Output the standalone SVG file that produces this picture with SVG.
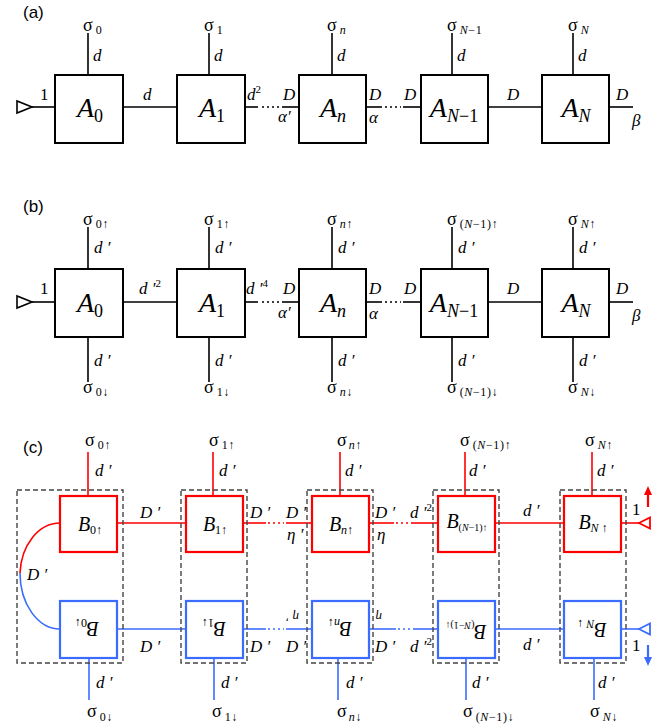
<svg xmlns="http://www.w3.org/2000/svg" width="668" height="727" viewBox="0 0 668 727">
<style>
text{font-family:"Liberation Serif","Times New Roman",serif;fill:#000}
.t{font-family:"Liberation Serif","Times New Roman",serif;fill:#000}
.i{font-style:italic}
.s{font-size:18px}
.sb{font-size:12px;letter-spacing:0.6px}
.l{font-size:17px}
.big{font-size:28px;font-style:italic}
.bc{font-size:20px;font-style:italic}
text.p{font-family:"Liberation Sans",Arial,sans-serif;font-size:17px}
.bx{fill:#fff;stroke:#000;stroke-width:2}
.ln{stroke:#000;stroke-width:1.6;fill:none}
.dt{stroke:#000;stroke-width:1.6;stroke-dasharray:2 3;fill:none}
.rb{fill:#fff;stroke:#ff0000;stroke-width:2.2}
.bb{fill:#fff;stroke:#3b6cff;stroke-width:2.2}
.rl{stroke:#ff0000;stroke-width:1.6;fill:none}
.bl{stroke:#3b6cff;stroke-width:1.6;fill:none}
.rd{stroke:#ff0000;stroke-width:1.6;stroke-dasharray:2 3;fill:none}
.bd{stroke:#3b6cff;stroke-width:1.6;stroke-dasharray:2 3;fill:none}
.dash{fill:none;stroke:#444;stroke-width:1.4;stroke-dasharray:5 3}
</style>

<!-- panel labels -->
<text class="p" x="23" y="18">(a)</text>
<text class="p" x="23" y="212">(b)</text>
<text class="p" x="23" y="453">(c)</text>

<!-- ================= connectors ================= -->
<g id="connectors">
  <!-- (a) -->
  <polygon points="17,101 17,113 32,107" fill="#fff" stroke="#000" stroke-width="1.6"/>
  <line class="ln" x1="32" y1="107" x2="55" y2="107"/>
  <line class="ln" x1="123" y1="107" x2="177" y2="107"/>
  <line class="ln" x1="245" y1="107" x2="258" y2="107"/>
  <line class="dt" x1="262" y1="107" x2="280" y2="107"/>
  <line class="ln" x1="282" y1="107" x2="299" y2="107"/>
  <line class="ln" x1="366" y1="107" x2="382" y2="107"/>
  <line class="dt" x1="385" y1="107" x2="401" y2="107"/>
  <line class="ln" x1="403" y1="107" x2="421" y2="107"/>
  <line class="ln" x1="488" y1="107" x2="542" y2="107"/>
  <line class="ln" x1="609" y1="107" x2="633" y2="107"/>
  <line class="ln" x1="88" y1="33" x2="88" y2="75"/>
  <line class="ln" x1="209" y1="33" x2="209" y2="75"/>
  <line class="ln" x1="332" y1="33" x2="332" y2="75"/>
  <line class="ln" x1="452" y1="33" x2="452" y2="75"/>
  <line class="ln" x1="573" y1="33" x2="573" y2="75"/>

  <!-- (b) -->
  <polygon points="17,296 17,308 32,302" fill="#fff" stroke="#000" stroke-width="1.6"/>
  <line class="ln" x1="32" y1="302" x2="55" y2="302"/>
  <line class="ln" x1="123" y1="302" x2="177" y2="302"/>
  <line class="ln" x1="245" y1="302" x2="258" y2="302"/>
  <line class="dt" x1="262" y1="302" x2="280" y2="302"/>
  <line class="ln" x1="282" y1="302" x2="299" y2="302"/>
  <line class="ln" x1="366" y1="302" x2="382" y2="302"/>
  <line class="dt" x1="385" y1="302" x2="401" y2="302"/>
  <line class="ln" x1="403" y1="302" x2="421" y2="302"/>
  <line class="ln" x1="488" y1="302" x2="542" y2="302"/>
  <line class="ln" x1="609" y1="302" x2="633" y2="302"/>
  <line class="ln" x1="88" y1="227" x2="88" y2="269"/>
  <line class="ln" x1="209" y1="227" x2="209" y2="269"/>
  <line class="ln" x1="332" y1="227" x2="332" y2="269"/>
  <line class="ln" x1="452" y1="227" x2="452" y2="269"/>
  <line class="ln" x1="573" y1="227" x2="573" y2="269"/>
  <line class="ln" x1="88" y1="337" x2="88" y2="382"/>
  <line class="ln" x1="209" y1="337" x2="209" y2="382"/>
  <line class="ln" x1="332" y1="337" x2="332" y2="382"/>
  <line class="ln" x1="452" y1="337" x2="452" y2="382"/>
  <line class="ln" x1="573" y1="337" x2="573" y2="382"/>

  <!-- (c) red -->
  <path class="rl" d="M60,523 A40,53 0 0 0 20,573"/>
  <line class="rl" x1="117" y1="523" x2="186" y2="523"/>
  <line class="rl" x1="243" y1="523" x2="266" y2="523"/>
  <line class="rd" x1="268" y1="523" x2="284" y2="523"/>
  <line class="rl" x1="286" y1="523" x2="312" y2="523"/>
  <line class="rl" x1="369" y1="523" x2="394" y2="523"/>
  <line class="rd" x1="396" y1="523" x2="410" y2="523"/>
  <line class="rl" x1="411" y1="523" x2="438" y2="523"/>
  <line class="rl" x1="495" y1="523" x2="564" y2="523"/>
  <line class="rl" x1="621" y1="523" x2="639" y2="523"/>
  <polygon points="639,523 650,517.5 650,528.5" fill="#fff" stroke="#ff0000" stroke-width="1.8"/>
  <line class="rl" x1="88" y1="452" x2="88" y2="496"/>
  <line class="rl" x1="213" y1="452" x2="213" y2="496"/>
  <line class="rl" x1="340" y1="452" x2="340" y2="496"/>
  <line class="rl" x1="465" y1="452" x2="465" y2="496"/>
  <line class="rl" x1="592" y1="452" x2="592" y2="496"/>
  <line x1="648" y1="507" x2="648" y2="493" stroke="#ff0000" stroke-width="2.2"/>
  <polygon points="648,486 644,495 652,495" fill="#ff0000"/>

  <!-- (c) blue -->
  <path class="bl" d="M20,573 A40,56 0 0 0 60,629"/>
  <line class="bl" x1="117" y1="629" x2="186" y2="629"/>
  <line class="bl" x1="243" y1="629" x2="266" y2="629"/>
  <line class="bd" x1="268" y1="629" x2="284" y2="629"/>
  <line class="bl" x1="286" y1="629" x2="312" y2="629"/>
  <line class="bl" x1="369" y1="629" x2="396" y2="629"/>
  <line class="bd" x1="398" y1="629" x2="411" y2="629"/>
  <line class="bl" x1="413" y1="629" x2="438" y2="629"/>
  <line class="bl" x1="495" y1="629" x2="564" y2="629"/>
  <line class="bl" x1="621" y1="629" x2="639" y2="629"/>
  <polygon points="639,629 650,623.5 650,634.5" fill="#fff" stroke="#3b6cff" stroke-width="1.8"/>
  <line class="bl" x1="89" y1="658" x2="89" y2="700"/>
  <line class="bl" x1="214" y1="658" x2="214" y2="700"/>
  <line class="bl" x1="338" y1="658" x2="338" y2="700"/>
  <line class="bl" x1="466" y1="658" x2="466" y2="700"/>
  <line class="bl" x1="594" y1="658" x2="594" y2="700"/>
  <line x1="648" y1="645" x2="648" y2="658" stroke="#3b6cff" stroke-width="2.2"/>
  <polygon points="648,666 644,657 652,657" fill="#3b6cff"/>

  <!-- dashed groupings -->
  <rect class="dash" x="17" y="490" width="106" height="173"/>
  <rect class="dash" x="181" y="490" width="66" height="173"/>
  <rect class="dash" x="307" y="490" width="66" height="173"/>
  <rect class="dash" x="433" y="490" width="66" height="173"/>
  <rect class="dash" x="560" y="490" width="66" height="173"/>
</g>

<!-- connector labels -->
<g id="labels-a" class="t">
  <text class="l" x="40" y="100">1</text>
  <text class="l i" x="143" y="100">d</text>
  <text class="l i" x="247" y="100">d<tspan font-size="11" dy="-7" font-style="normal">2</tspan></text>
  <text class="l i" x="283" y="100">D</text>
  <text class="l i" x="278" y="122">α′</text>
  <text class="l i" x="369" y="100">D</text>
  <text class="l i" x="369" y="123">α</text>
  <text class="l i" x="404" y="100">D</text>
  <text class="l i" x="507" y="100">D</text>
  <text class="l i" x="616" y="100">D</text>
  <text class="l i" x="632" y="126">β</text>
  <text class="s" x="83" y="31">σ<tspan class="sb" dy="3" dx="3">0</tspan></text>
  <text class="s" x="204" y="31">σ<tspan class="sb" dy="3" dx="3">1</tspan></text>
  <text class="s" x="327" y="31">σ<tspan class="sb i" dy="3" dx="3">n</tspan></text>
  <text class="s" x="447" y="31">σ<tspan class="sb" dy="3" dx="3"><tspan class="i">N</tspan>−1</tspan></text>
  <text class="s" x="568" y="31">σ<tspan class="sb i" dy="3" dx="3">N</tspan></text>
  <text class="l i" x="93" y="61">d</text>
  <text class="l i" x="214" y="61">d</text>
  <text class="l i" x="337" y="61">d</text>
  <text class="l i" x="457" y="61">d</text>
  <text class="l i" x="578" y="61">d</text>
</g>

<g id="labels-b" class="t">
  <text class="l" x="40" y="294">1</text>
  <text class="l i" x="139" y="294">d ′<tspan font-size="11" dy="-7" font-style="normal">2</tspan></text>
  <text class="l i" x="246" y="294">d ′<tspan font-size="11" dy="-7" font-style="normal">4</tspan></text>
  <text class="l i" x="283" y="294">D</text>
  <text class="l i" x="278" y="318">α′</text>
  <text class="l i" x="369" y="294">D</text>
  <text class="l i" x="369" y="319">α</text>
  <text class="l i" x="404" y="294">D</text>
  <text class="l i" x="507" y="294">D</text>
  <text class="l i" x="616" y="294">D</text>
  <text class="l i" x="632" y="321">β</text>
  <text class="s" x="83" y="225">σ<tspan class="sb" dy="3" dx="3">0↑</tspan></text>
  <text class="s" x="204" y="225">σ<tspan class="sb" dy="3" dx="3">1↑</tspan></text>
  <text class="s" x="327" y="225">σ<tspan class="sb" dy="3" dx="3"><tspan class="i">n</tspan>↑</tspan></text>
  <text class="s" x="447" y="225">σ<tspan class="sb" dy="3" dx="3">(<tspan class="i">N</tspan>−1)↑</tspan></text>
  <text class="s" x="568" y="225">σ<tspan class="sb" dy="3" dx="3"><tspan class="i">N</tspan>↑</tspan></text>
  <text class="l i" x="94" y="253">d ′</text>
  <text class="l i" x="215" y="253">d ′</text>
  <text class="l i" x="338" y="253">d ′</text>
  <text class="l i" x="458" y="253">d ′</text>
  <text class="l i" x="579" y="253">d ′</text>
  <text class="l i" x="94" y="366">d ′</text>
  <text class="l i" x="215" y="366">d ′</text>
  <text class="l i" x="338" y="366">d ′</text>
  <text class="l i" x="458" y="366">d ′</text>
  <text class="l i" x="579" y="366">d ′</text>
  <text class="s" x="83" y="393">σ<tspan class="sb" dy="3" dx="3">0↓</tspan></text>
  <text class="s" x="204" y="393">σ<tspan class="sb" dy="3" dx="3">1↓</tspan></text>
  <text class="s" x="327" y="393">σ<tspan class="sb" dy="3" dx="3"><tspan class="i">n</tspan>↓</tspan></text>
  <text class="s" x="447" y="393">σ<tspan class="sb" dy="3" dx="3">(<tspan class="i">N</tspan>−1)↓</tspan></text>
  <text class="s" x="568" y="393">σ<tspan class="sb" dy="3" dx="3"><tspan class="i">N</tspan>↓</tspan></text>
</g>

<g id="labels-c" class="t">
  <text class="l i" x="27" y="580">D ′</text>
  <!-- red -->
  <text class="l i" x="140" y="518">D ′</text>
  <text class="l i" x="250" y="518">D ′</text>
  <text class="l i" x="286" y="518">D ′</text>
  <text class="l i" x="287" y="540">η ′</text>
  <text class="l i" x="375" y="518">D ′</text>
  <text class="l i" x="377" y="540">η</text>
  <text class="l i" x="410" y="518">d ′<tspan font-size="11" dy="-7" font-style="normal">2</tspan></text>
  <text class="l i" x="523" y="516">d ′</text>
  <text class="l" x="632" y="515">1</text>
  <text class="s" x="85" y="446">σ<tspan class="sb" dy="3" dx="3">0↑</tspan></text>
  <text class="s" x="209" y="446">σ<tspan class="sb" dy="3" dx="3">1↑</tspan></text>
  <text class="s" x="337" y="446">σ<tspan class="sb" dy="3" dx="2"><tspan class="i">n</tspan>↑</tspan></text>
  <text class="s" x="460" y="446">σ<tspan class="sb" dy="3" dx="3">(<tspan class="i">N</tspan>−1)↑</tspan></text>
  <text class="s" x="585" y="446">σ<tspan class="sb" dy="3" dx="3"><tspan class="i">N</tspan>↑</tspan></text>
  <text class="l i" font-size="19" x="95" y="476">d ′</text>
  <text class="l i" font-size="19" x="219" y="476">d ′</text>
  <text class="l i" font-size="19" x="345" y="476">d ′</text>
  <text class="l i" font-size="19" x="469" y="476">d ′</text>
  <text class="l i" font-size="19" x="597" y="476">d ′</text>
  <!-- blue -->
  <text class="l i" x="140" y="652">D ′</text>
  <text class="l i" x="250" y="652">D ′</text>
  <text class="l i" x="286" y="652">D ′</text>
  <text class="i" font-size="13" x="288" y="617" transform="rotate(180 293.5 615)">η ′</text>
  <text class="i" font-size="13" x="376" y="617" transform="rotate(180 379 615)">η</text>
  <text class="l i" x="375" y="652">D ′</text>
  <text class="l i" x="410" y="652">d ′<tspan font-size="11" dy="-7" font-style="normal">2</tspan></text>
  <text class="l i" x="523" y="650">d ′</text>
  <text class="l" x="632" y="651">1</text>
  <text class="l i" font-size="19" x="96" y="688">d ′</text>
  <text class="l i" font-size="19" x="221" y="688">d ′</text>
  <text class="l i" font-size="19" x="346" y="688">d ′</text>
  <text class="l i" font-size="19" x="472" y="688">d ′</text>
  <text class="l i" font-size="19" x="598" y="688">d ′</text>
  <text class="s" x="87" y="717">σ<tspan class="sb" dy="4" dx="3">0↓</tspan></text>
  <text class="s" x="212" y="717">σ<tspan class="sb" dy="4" dx="3">1↓</tspan></text>
  <text class="s" x="337" y="717">σ<tspan class="sb" dy="4" dx="2"><tspan class="i">n</tspan>↓</tspan></text>
  <text class="s" x="463" y="717">σ<tspan class="sb" dy="4" dx="3">(<tspan class="i">N</tspan>−1)↓</tspan></text>
  <text class="s" x="590" y="717">σ<tspan class="sb" dy="4" dx="3"><tspan class="i">N</tspan>↓</tspan></text>
</g>

<!-- ================= nodes (a) ================= -->
<g id="a-A0"><rect class="bx" x="55" y="75" width="68" height="68"/><text class="t big" x="90" y="117" text-anchor="middle">A<tspan font-size="18" font-style="normal" dy="5">0</tspan></text></g>
<g id="a-A1"><rect class="bx" x="177" y="75" width="68" height="68"/><text class="t big" x="212" y="117" text-anchor="middle">A<tspan font-size="18" font-style="normal" dy="5">1</tspan></text></g>
<g id="a-An"><rect class="bx" x="299" y="75" width="67" height="68"/><text class="t big" x="333" y="117" text-anchor="middle">A<tspan font-size="18" dy="5">n</tspan></text></g>
<g id="a-AN1"><rect class="bx" x="421" y="75" width="67" height="68"/><text class="t big" x="454" y="117" text-anchor="middle">A<tspan font-size="18" dy="5">N<tspan font-style="normal">−1</tspan></tspan></text></g>
<g id="a-AN"><rect class="bx" x="542" y="75" width="67" height="68"/><text class="t big" x="576" y="117" text-anchor="middle">A<tspan font-size="18" dy="5">N</tspan></text></g>

<!-- ================= nodes (b) ================= -->
<g id="b-A0"><rect class="bx" x="55" y="269" width="68" height="68"/><text class="t big" x="90" y="312" text-anchor="middle">A<tspan font-size="18" font-style="normal" dy="5">0</tspan></text></g>
<g id="b-A1"><rect class="bx" x="177" y="269" width="68" height="68"/><text class="t big" x="212" y="312" text-anchor="middle">A<tspan font-size="18" font-style="normal" dy="5">1</tspan></text></g>
<g id="b-An"><rect class="bx" x="299" y="269" width="67" height="68"/><text class="t big" x="333" y="312" text-anchor="middle">A<tspan font-size="18" dy="5">n</tspan></text></g>
<g id="b-AN1"><rect class="bx" x="421" y="269" width="67" height="68"/><text class="t big" x="454" y="312" text-anchor="middle">A<tspan font-size="18" dy="5">N<tspan font-style="normal">−1</tspan></tspan></text></g>
<g id="b-AN"><rect class="bx" x="542" y="269" width="67" height="68"/><text class="t big" x="576" y="312" text-anchor="middle">A<tspan font-size="18" dy="5">N</tspan></text></g>

<!-- ================= nodes (c) red ================= -->
<g id="c-B0up"><rect class="rb" x="60" y="496" width="57" height="56"/><text class="t bc" x="90" y="531" text-anchor="middle">B<tspan font-size="12" font-style="normal" dy="3">0↑</tspan></text></g>
<g id="c-B1up"><rect class="rb" x="186" y="496" width="57" height="56"/><text class="t bc" x="215" y="531" text-anchor="middle">B<tspan font-size="12" font-style="normal" dy="3">1↑</tspan></text></g>
<g id="c-Bnup"><rect class="rb" x="312" y="496" width="57" height="56"/><text class="t bc" x="341" y="531" text-anchor="middle">B<tspan font-size="12" dy="3">n<tspan font-style="normal">↑</tspan></tspan></text></g>
<g id="c-BN1up"><rect class="rb" x="438" y="496" width="57" height="56"/><text class="t bc" font-size="18" x="467" y="528" text-anchor="middle">B<tspan font-size="10" font-style="normal" dy="3">(<tspan font-style="italic">N</tspan>−1)↑</tspan></text></g>
<g id="c-BNup"><rect class="rb" x="564" y="496" width="57" height="56"/><text class="t bc" x="593" y="529" text-anchor="middle">B<tspan font-size="12" dy="3">N<tspan font-style="normal"> ↑</tspan></tspan></text></g>

<!-- ================= nodes (c) blue (rotated labels) ================= -->
<g id="c-B0dn"><rect class="bb" x="60" y="601" width="57" height="57"/><text class="t bc" x="90" y="637" text-anchor="middle" transform="rotate(180 88.5 629.5)">B<tspan font-size="12" font-style="normal" dy="3">0↓</tspan></text></g>
<g id="c-B1dn"><rect class="bb" x="186" y="601" width="57" height="57"/><text class="t bc" x="215" y="637" text-anchor="middle" transform="rotate(180 214.5 629.5)">B<tspan font-size="12" font-style="normal" dy="3">1↓</tspan></text></g>
<g id="c-Bndn"><rect class="bb" x="312" y="601" width="57" height="57"/><text class="t bc" x="341" y="637" text-anchor="middle" transform="rotate(180 340.5 629.5)">B<tspan font-size="12" dy="3">n<tspan font-style="normal">↓</tspan></tspan></text></g>
<g id="c-BN1dn"><rect class="bb" x="438" y="601" width="57" height="57"/><text class="t bc" font-size="18" x="467" y="634" text-anchor="middle" transform="rotate(180 466.5 629.5)">B<tspan font-size="10" font-style="normal" dy="3">(<tspan font-style="italic">N</tspan>−1)↓</tspan></text></g>
<g id="c-BNdn"><rect class="bb" x="564" y="601" width="57" height="57"/><text class="t bc" x="593" y="636" text-anchor="middle" transform="rotate(180 592.5 629.5)">B<tspan font-size="12" dy="3">N<tspan font-style="normal"> ↓</tspan></tspan></text></g>
</svg>
